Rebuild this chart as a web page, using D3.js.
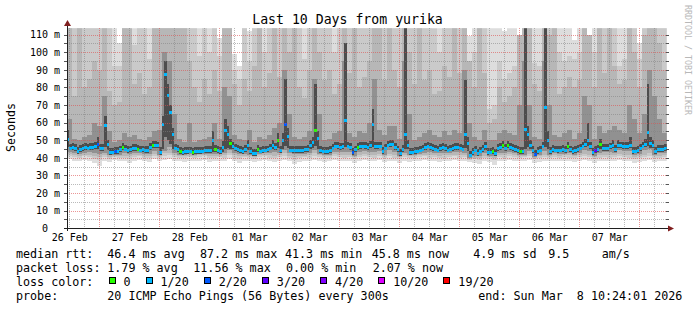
<!DOCTYPE html>
<html>
<head>
<meta charset="utf-8">
<script src="https://cdn.jsdelivr.net/npm/d3@7"></script>
<style>
  body { margin: 0; background: #fff; }
  svg { display: block; font-family: "DejaVu Sans Mono", monospace; }
</style>
</head>
<body>
<svg id="svg1" width="697" height="310"></svg>
<script>
// ---- data: hourly median rtt (ms) and loss count (of 20), 240 hours ----
var median = [
  50.6,45.6,45.8,45.2,43.6,44.8,45.5,45.8,45.6,46.0,
  46.0,46.2,47.8,45.5,45.4,58.2,47.5,43.0,43.3,43.5,
  43.5,44.6,46.0,45.0,44.1,44.6,45.2,45.4,45.0,44.4,
  44.5,44.2,44.0,45.8,46.9,46.9,46.8,43.2,59.2,87.2,
  75.5,65.6,53.5,45.5,44.8,43.5,43.1,43.4,43.5,43.8,
  43.1,43.6,43.6,43.5,43.8,44.0,44.1,44.0,49.7,44.8,
  44.0,43.5,46.0,55.8,53.5,48.0,46.5,45.4,44.8,44.0,
  43.6,44.8,47.3,43.5,42.6,42.6,44.8,43.9,44.2,44.4,
  44.5,45.5,47.3,46.0,50.1,44.0,50.1,58.8,52.0,44.4,
  44.2,44.0,44.0,44.2,44.0,44.5,44.8,47.3,48.5,55.8,
  51.0,44.0,43.8,43.6,43.5,44.0,45.5,46.7,46.3,46.0,
  46.2,61.5,46.7,46.0,43.0,44.5,46.0,46.3,46.7,46.5,
  46.0,47.0,59.2,46.3,46.5,46.7,43.5,45.5,47.3,47.5,
  47.8,46.0,44.5,42.6,44.8,53.0,47.0,43.1,43.3,43.5,
  43.8,44.4,45.0,45.8,46.7,46.0,45.4,45.0,44.4,45.2,
  46.0,45.2,44.4,45.0,45.4,45.8,46.0,45.6,45.0,53.5,
  48.0,41.6,43.0,44.4,42.6,43.8,44.8,46.7,43.1,43.3,
  43.5,42.6,45.4,46.0,46.9,45.4,46.9,46.0,45.4,44.8,
  44.2,43.5,43.5,56.2,53.0,47.0,44.0,42.2,43.5,44.4,
  46.7,68.6,50.0,43.5,44.8,44.4,44.0,44.4,44.8,44.0,
  46.3,44.5,43.5,44.0,44.8,45.5,46.7,47.8,49.7,46.3,
  43.1,44.0,44.8,47.7,45.4,45.4,45.4,46.2,47.3,44.8,
  47.3,46.8,46.3,46.3,46.3,47.3,43.5,43.8,44.0,45.4,
  46.7,47.8,54.3,48.2,47.3,43.5,44.8,44.8,44.8,45.4
];
var loss = [
  1,1,1,1,1,1,1,1,1,1, 1,1,2,1,1,1,1,1,1,2, 1,1,0,1,1,1,1,1,0,1,
  1,1,1,1,0,1,1,1,1,1, 1,1,1,1,1,0,1,1,1,1, 0,1,1,1,1,1,1,1,1,0,
  1,1,1,1,1,0,1,1,1,1, 1,1,1,1,1,1,0,1,1,1, 1,1,1,1,0,1,1,2,1,1,
  1,1,1,1,1,1,1,1,1,0, 1,1,1,1,1,1,1,1,1,1, 1,1,1,1,2,1,0,1,1,1,
  1,1,1,1,1,1,1,1,1,1, 1,1,1,1,1,1,1,1,1,1, 1,1,1,1,1,1,1,1,1,1,
  1,1,1,1,1,1,1,1,1,1, 1,1,1,1,1,1,1,1,1,1, 0,1,1,1,0,1,0,1,1,1,
  1,0,1,1,1,1,1,2,1,1, 1,1,1,1,1,1,1,1,1,1, 0,1,1,1,1,1,1,1,1,1,
  1,3,1,0,1,1,1,1,1,1, 1,1,1,1,1,1,1,1,1,1, 1,1,1,1,1,1,1,1,1,1
];

// ---- smoke core: ping ranks 8 and 13 (ms), hourly, 240 values ----
var r8 = [
  46.0,44.2,44.3,43.9,42.3,43.4,44.1,44.4,44.2,44.6, 44.6,44.8,45.0,44.1,44.0,46.0,44.5,41.7,42.0,42.2,
  42.2,43.3,44.6,43.7,42.8,43.3,43.9,44.1,43.7,43.1, 43.2,42.9,42.7,44.4,45.5,45.5,45.4,41.9,45.0,52.0,
  50.0,48.0,45.0,44.2,43.5,42.2,41.8,42.1,42.2,42.5, 41.8,42.3,42.3,42.2,42.5,42.7,42.8,42.7,43.5,43.5,
  42.7,42.2,43.5,45.0,45.5,45.0,45.2,44.1,43.5,42.7, 42.3,43.5,44.5,42.2,41.3,41.3,43.5,42.6,42.9,43.1,
  43.2,44.2,45.0,44.7,45.5,42.7,45.0,47.0,45.5,43.1, 42.9,42.7,42.7,42.9,42.7,43.2,43.5,45.0,45.5,47.0,
  45.0,42.7,42.5,42.3,42.2,42.7,44.2,45.4,45.0,44.7, 44.9,46.0,45.4,44.7,41.7,43.2,44.7,45.0,45.4,45.2,
  44.7,45.7,46.0,45.0,45.2,45.4,42.2,44.2,46.0,46.2, 46.5,44.7,43.2,41.3,43.5,45.0,45.0,41.8,42.0,42.2,
  42.5,43.1,43.7,44.5,45.4,44.7,44.1,43.7,43.1,43.9, 44.7,43.9,43.1,43.7,44.1,44.5,44.7,44.3,43.7,45.5,
  44.0,40.3,41.7,43.1,41.3,42.5,43.5,44.5,41.8,42.0, 42.2,41.3,44.1,44.7,45.6,44.1,45.6,44.7,44.1,43.5,
  42.9,42.2,42.2,45.0,46.0,45.0,42.7,40.9,42.2,43.1, 45.4,46.0,45.0,42.2,43.5,43.1,42.7,43.1,43.5,42.7,
  45.0,43.2,42.2,42.7,43.5,44.2,45.4,46.0,46.5,45.0, 41.8,42.7,43.5,45.0,44.1,44.1,44.1,44.9,45.5,43.5,
  45.5,45.5,45.0,45.0,45.0,45.5,42.2,42.5,42.7,44.1, 45.4,46.0,46.5,45.5,45.5,42.2,43.5,43.5,43.5,44.1
];
var r13 = [
  56.0,48.0,48.3,47.6,46.0,47.2,47.8,48.3,48.0,48.6, 48.5,48.8,52.0,48.0,48.0,64.0,50.0,45.5,45.8,46.0,
  46.0,47.0,48.5,47.5,46.6,47.0,47.6,47.8,47.5,46.9, 47.0,46.7,46.5,48.3,49.4,49.4,49.3,46.0,64.0,95.0,
  82.0,70.0,57.0,48.0,47.3,46.0,45.6,45.9,46.0,46.3, 45.6,46.1,46.1,46.0,46.3,46.5,46.6,46.5,55.0,47.3,
  46.5,46.0,49.5,62.0,58.0,51.0,49.0,47.9,47.3,46.5, 46.1,47.3,50.0,46.0,45.1,45.1,47.3,46.4,46.7,46.9,
  47.0,48.0,50.0,48.5,54.0,46.5,54.0,85.0,57.0,46.9, 46.7,46.5,46.5,46.7,46.5,47.0,47.3,50.0,52.0,82.0,
  55.0,46.5,46.3,46.1,46.0,46.5,48.0,49.2,48.8,48.5, 48.7,105.0,49.2,48.5,45.5,47.0,48.5,48.8,49.2,49.0,
  48.5,49.5,68.0,48.8,49.0,49.2,46.0,48.0,49.8,50.0, 50.3,48.5,47.0,45.1,47.3,130,50.0,45.6,45.8,46.0,
  46.3,46.9,47.5,48.3,49.2,48.5,47.9,47.5,46.9,47.7, 48.5,47.7,46.9,47.5,47.9,48.3,48.5,48.1,47.5,84.0,
  52.0,44.1,45.5,46.9,45.1,46.3,47.3,49.2,45.6,45.8, 46.0,45.1,47.9,48.5,49.4,47.9,49.4,48.5,47.9,47.3,
  46.7,46.0,46.0,130,58.0,50.0,46.5,44.7,46.0,46.9, 49.2,130,55.0,46.0,47.3,46.9,46.5,46.9,47.3,46.5,
  48.8,47.0,46.0,46.5,47.3,48.0,49.2,51.0,60.0,48.8, 45.6,46.5,47.3,50.5,47.9,47.9,47.9,48.7,50.0,47.3,
  50.0,49.3,48.8,48.8,48.8,52.0,46.0,46.3,46.5,47.9, 49.2,51.0,82.0,52.0,50.0,46.0,47.3,47.3,47.3,47.9
];

// ---- outer smoke: ping ranks (ms), 2-hour bins, 120 values ----
var r1 = [
  39.5,38.5,38.0,39.0,38.5,37.0,35.5,38.0,37.5,39.0, 38.5,38.0,37.0,38.5,39.0,38.0,37.5,39.5,38.0,39.0,
  39.5,38.5,38.0,37.5,38.5,38.0,38.5,39.0,37.5,38.0, 38.5,38.0,39.5,38.0,37.0,38.5,38.0,37.5,38.5,39.0,
  38.0,37.5,38.5,39.0,38.0,36.5,37.5,38.5,38.0,39.0, 38.5,37.5,38.0,39.0,38.5,38.0,38.5,37.0,38.5,39.0,
  38.5,38.0,39.0,37.5,38.5,38.0,37.0,38.5,37.5,38.0, 38.5,39.0,38.0,38.5,37.5,38.0,38.5,39.0,38.0,38.5,
  37.5,37.0,36.5,38.0,37.5,36.0,38.5,38.0,39.0,38.5, 38.0,38.5,39.0,37.0,37.5,38.5,38.0,38.5,38.0,38.5,
  38.0,37.5,38.5,39.0,38.5,37.0,38.0,38.5,38.0,38.5, 39.0,38.5,38.0,37.0,37.5,38.5,39.0,37.5,38.0,38.5
];
var r2 = [
  41.0,40.5,40.0,40.8,40.5,39.5,39.0,40.5,39.5,40.5, 40.2,40.0,39.5,40.5,40.8,40.0,39.8,41.0,40.0,41.0,
  41.5,40.5,40.0,39.8,40.3,40.0,40.5,40.8,39.8,40.0, 40.3,40.2,41.5,40.2,39.5,40.3,40.0,39.5,40.5,40.8,
  40.2,39.8,40.5,41.0,40.0,39.0,39.8,40.3,40.2,41.0, 40.5,39.8,40.0,41.0,40.5,40.2,40.5,39.3,40.5,41.0,
  40.5,40.2,41.0,39.8,40.8,40.2,39.3,40.5,39.8,40.0, 40.5,40.8,40.2,40.5,39.8,40.2,40.5,40.8,40.2,40.5,
  39.0,39.2,38.8,40.0,39.5,38.8,40.5,40.2,41.0,40.5, 40.0,40.5,41.0,39.2,39.8,40.5,40.0,40.5,40.0,40.5,
  40.2,39.8,40.5,41.0,40.5,39.3,40.2,40.5,40.2,40.5, 41.0,40.5,40.2,39.3,39.8,40.5,41.0,39.8,40.2,40.5
];
var r3 = [
  42.0,41.5,41.0,41.8,41.8,40.8,40.5,41.5,40.5,41.2, 41.2,41.3,40.8,41.6,41.8,41.2,41.0,42.2,41.0,42.5,
  43.0,41.8,41.0,40.8,41.2,41.0,41.4,41.8,41.0,41.2, 41.2,41.5,43.0,41.5,40.8,41.2,41.0,40.5,41.5,41.8,
  41.4,41.2,41.5,42.5,41.2,40.5,41.0,41.3,41.5,42.5, 41.5,40.8,41.0,42.0,41.8,41.5,41.8,40.5,41.8,42.2,
  41.8,41.5,42.2,40.8,42.0,41.5,40.3,41.5,40.8,41.0, 41.5,41.8,41.5,41.6,41.0,41.4,41.5,41.8,41.5,41.8,
  39.6,40.2,40.0,41.2,40.6,40.0,41.6,41.4,42.0,41.5, 41.0,41.3,42.2,40.2,40.8,41.6,41.0,41.5,41.0,41.5,
  41.4,40.8,41.6,42.2,41.8,40.5,41.4,41.6,41.5,41.7, 42.2,41.8,41.5,40.5,41.0,41.8,42.5,41.0,41.3,41.6
];
var r5 = [
  43.2,42.8,42.0,43.0,43.2,42.5,42.0,42.8,41.5,41.8, 41.9,42.8,42.2,42.9,42.6,42.3,42.0,43.8,41.8,44.0,
  46.0,43.0,41.9,41.6,42.0,41.6,42.0,42.4,42.0,42.4, 42.0,43.0,44.5,43.0,42.2,42.0,41.8,41.0,42.3,42.6,
  42.8,43.2,42.5,44.5,42.5,42.0,42.1,42.2,42.8,44.5, 42.2,41.8,41.9,43.4,43.6,43.5,43.6,41.3,43.6,44.0,
  43.6,43.5,44.0,41.8,44.5,43.5,40.9,42.8,41.4,41.6, 42.0,43.0,43.6,43.0,42.5,43.0,42.5,43.2,43.4,43.0,
  40.0,41.0,40.8,42.6,41.3,40.8,43.0,43.0,43.6,42.6, 41.7,41.8,44.0,40.5,41.7,44.0,41.8,42.5,42.2,42.2,
  42.6,41.7,42.8,44.2,44.0,41.3,42.8,43.2,43.2,42.8, 44.2,43.8,43.8,41.6,42.1,44.2,45.0,41.7,42.8,42.9
];
var r16 = [
  62,51,50,52,53,60,58,75,55,49, 50,54,52,53,51,50,52,55,56,100,
  95,65,51,49,60,49,50,51,52,60, 51,80,75,53,51,50,56,49,52,51,
  53,57,60,90,65,52,51,52,55,85, 65,50,51,54,55,95,54,52,55,54,
  60,85,56,53,58,58,51,95,65,50, 52,54,56,53,52,55,53,56,54,90,
  60,52,50,56,50,50,54,56,54,53, 70,95,70,52,51,95,70,53,52,54,
  56,51,54,75,70,51,58,54,56,58, 56,54,70,62,54,65,90,75,62,54
];
var r18 = [
  120,75,120,80,85,95,90,115,78,70, 72,120,118,82,88,76,80,120,118,130,
  130,120,118,116,95,80,72,85,76,90, 78,120,118,82,70,85,78,92,116,80,
  88,118,86,118,100,118,80,74,90,118, 100,84,90,76,82,130,88,117,80,86,
  95,120,118,84,116,90,80,130,100,82, 117,84,90,76,78,92,86,118,88,130,
  95,80,116,88,60,62,80,72,75,80, 110,130,115,82,78,130,110,117,76,80,
  86,80,84,118,110,80,117,88,116,92, 82,84,115,100,80,110,130,115,105,90
];
var r19 = [
  125,120,125,118,122,125,120,125,118,92, 92,125,100,104,120,118,96,125,125,135,
  135,125,125,122,120,118,98,120,100,122, 98,125,125,90,85,120,95,118,122,100,
  120,125,118,130,125,125,118,96,120,125, 125,118,120,100,118,135,120,125,118,120,
  122,130,125,118,125,120,118,135,125,118, 125,118,120,118,100,120,118,125,120,135,
  95,100,120,118,68,70,95,85,88,92, 95,135,125,94,92,135,125,125,100,95,
  98,96,100,125,95,100,125,118,125,120, 92,96,125,118,96,125,135,125,120,118
];
var r20 = [
  140,140,140,130,140,140,135,140,130,120, 105,130,118,120,140,130,115,140,140,150,
  150,140,140,135,140,130,115,135,118,140, 108,140,140,99,92,135,112,130,140,118,
  135,140,130,150,140,140,130,114,135,140, 140,130,135,116,130,150,135,140,130,135,
  135,150,140,130,140,135,130,150,140,130, 140,130,135,107,116,135,130,140,135,150,
  109,118,135,130,118,116,118,112,114,116, 105,150,140,116,114,150,140,140,118,116,
  118,107,118,140,104,118,140,130,140,135, 115,116,140,130,105,140,150,140,135,130
];

var yTicks = [0,10,20,30,40,50,60,70,80,90,100,110];
var dayLabels = ["26 Feb","27 Feb","28 Feb","01 Mar","02 Mar","03 Mar","04 Mar","05 Mar","06 Mar","07 Mar"];
var lossLabels = ["0","1/20","2/20","3/20","4/20","10/20","19/20"];
var lossColors = ["#26ff00","#00b8ff","#0059ff","#5e00ff","#7e00ff","#dd00ff","#ff0000"];

(function() {
  var pL = 66.7, pR = 666.7, pT = 28.3, pB = 228.3;
  var x = d3.scaleLinear().domain([0, 240]).range([pL, pR]);
  var y = d3.scaleLinear().domain([0, 113.6]).range([pB, pT]);
  var svg = d3.select("#svg1");

  svg.append("rect").attr("width", 697).attr("height", 310).attr("fill", "#fff");
  svg.append("defs").append("clipPath").attr("id", "plot")
    .append("rect").attr("x", pL).attr("y", pT)
    .attr("width", pR - pL).attr("height", pB - pT);

  // smoke bands, outer to inner (step = hours per value)
  var bands = [
    {lo: r1, hi: r20, c: "#dddddd", step: 2},
    {lo: r2, hi: r19, c: "#cacaca", step: 2},
    {lo: r3, hi: r18, c: "#b7b7b7", step: 2},
    {lo: r5, hi: r16, c: "#919191", step: 2},
    {lo: r8, hi: r13, c: "#4d4d4d", step: 1}
  ];
  var smoke = svg.append("g").attr("clip-path", "url(#plot)")
    .attr("shape-rendering", "crispEdges");
  bands.forEach(function(b) {
    smoke.append("g").attr("fill", b.c).selectAll("rect")
      .data(d3.range(b.lo.length))
      .enter().append("rect")
      .attr("x", function(j) { return x(b.step * j); })
      .attr("width", function(j) { return x(b.step * (j + 1)) - x(b.step * j); })
      .attr("y", function(j) { return y(b.hi[j]); })
      .attr("height", function(j) { return y(b.lo[j]) - y(b.hi[j]); });
  });

  // median coloured by loss
  function lossIndex(l) {
    if (l <= 0) return 0;
    if (l <= 4) return Math.ceil(l);
    if (l <= 10) return 5;
    return 6;
  }
  smoke.append("g").selectAll("rect")
    .data(median)
    .enter().append("rect")
    .attr("x", function(d, i) { return x(i); })
    .attr("width", function(d, i) { return x(i + 1) - x(i); })
    .attr("y", function(d) { return y(d) - 1.5; })
    .attr("height", 3)
    .attr("fill", function(d, i) { return lossColors[lossIndex(loss[i])]; });

  // grid
  var grid = svg.append("g").attr("shape-rendering", "crispEdges").attr("stroke-width", 1)
    .attr("stroke-dasharray", "1,1");
  var minorColor = "rgba(130,130,130,0.55)", majorColor = "rgba(222,80,80,0.6)";
  d3.range(5, 114, 5).forEach(function(v) {
    var yy = Math.round(y(v)) + 0.5;
    grid.append("line").attr("x1", pL).attr("x2", pR).attr("y1", yy).attr("y2", yy)
      .attr("stroke", v % 10 === 0 ? majorColor : minorColor);
  });
  d3.range(1, 240, 6).forEach(function(h) {
    var xx = Math.round(x(h)) + 0.5;
    var major = (h - 13) % 24 === 0;
    grid.append("line").attr("x1", xx).attr("x2", xx).attr("y1", pT).attr("y2", pB)
      .attr("stroke", major ? majorColor : minorColor);
  });

  // y tick marks both sides
  var tk = svg.append("g").attr("stroke", "#555").attr("shape-rendering", "crispEdges");
  d3.range(5, 114, 5).forEach(function(v) {
    var yy = Math.round(y(v)) + 0.5;
    tk.append("line").attr("x1", pL - 3).attr("x2", pL).attr("y1", yy).attr("y2", yy);
    tk.append("line").attr("x1", pR - 1).attr("x2", pR + 2).attr("y1", yy).attr("y2", yy);
  });

  // axes labels
  var yAxis = svg.append("g")
    .attr("transform", "translate(" + pL + ",0)")
    .call(d3.axisLeft(y).tickValues(yTicks).tickSize(0).tickPadding(6.7)
      .tickFormat(function(d) { return d === 0 ? "0  " : d + " m"; }));
  yAxis.select(".domain").remove();
  yAxis.selectAll("text").attr("xml:space", "preserve")
    .style("font-family", "DejaVu Sans Mono").style("font-size", "10px").attr("fill", "#000");

  var xAxis = svg.append("g")
    .attr("transform", "translate(0," + pB + ")")
    .call(d3.axisBottom(x).tickValues(dayLabels.map(function(d, i) { return 1 + 24 * i; }))
      .tickSize(0).tickPadding(5.6)
      .tickFormat(function(d, i) { return dayLabels[i]; }));
  xAxis.select(".domain").remove();
  xAxis.selectAll("text").style("font-family", "DejaVu Sans Mono").style("font-size", "10px")
    .attr("fill", "#000");

  // axis lines and arrows
  var ax = svg.append("g").attr("shape-rendering", "crispEdges");
  ax.append("line").attr("x1", 64).attr("x2", 670).attr("y1", Math.round(pB) + 0.5)
    .attr("y2", Math.round(pB) + 0.5).attr("stroke", "#1f1f1f");
  ax.append("line").attr("x1", Math.round(pL) + 0.5).attr("x2", Math.round(pL) + 0.5)
    .attr("y1", 231).attr("y2", 24).attr("stroke", "#1f1f1f");
  svg.append("path").attr("d", "M668,225.5L674,228.5L668,231.5Z").attr("fill", "#801f1f");
  svg.append("path").attr("d", "M64,26L67.5,20L71,26Z").attr("fill", "#801f1f");

  // title and side texts
  svg.append("text").attr("x", 347.5).attr("y", 23.5).attr("text-anchor", "middle")
    .style("font-size", "13.2px").text("Last 10 Days from yurika");
  svg.append("text").attr("transform", "translate(15,127.5) rotate(-90)")
    .attr("text-anchor", "middle").style("font-size", "11.6px").text("Seconds");
  svg.append("text").attr("transform", "translate(685,5) rotate(90)")
    .style("font-size", "8.3px").attr("fill", "#b8b8b8").text("RRDTOOL / TOBI OETIKER");

  // legend
  var lg = svg.append("g").style("font-size", "11.7px");
  function put(txt, xx, yy) {
    return lg.append("text").attr("xml:space", "preserve").attr("x", xx).attr("y", yy).text(txt);
  }
  var rows = [257.5, 271.7, 285.9, 300.1];
  put("median rtt:", 16, rows[0]);
  put("46.4 ms avg", 107.3, rows[0]); put("87.2 ms max", 200, rows[0]);
  put("41.3 ms min", 285, rows[0]); put("45.8 ms now", 371.7, rows[0]);
  put("4.9 ms sd", 473.3, rows[0]); put("9.5", 548.3, rows[0]); put("am/s", 601.7, rows[0]);
  put("packet loss:", 16, rows[1]);
  put("1.79 % avg", 107.3, rows[1]); put("11.56 % max", 193.3, rows[1]);
  put("0.00 % min", 286, rows[1]); put("2.07 % now", 372.7, rows[1]);
  put("loss color:", 16, rows[2]);
  var lx = 108.5;
  lossLabels.forEach(function(l, i) {
    lg.append("rect").attr("x", lx + 0.5).attr("y", 277.5).attr("width", 6).attr("height", 6)
      .attr("fill", lossColors[i]).attr("stroke", "#000").attr("shape-rendering", "crispEdges");
    var t = put(l, lx + 15, rows[2]);
    lx = lx + 15 + t.node().getComputedTextLength() + 15;
  });
  put("probe:", 16, rows[3]);
  put("20 ICMP Echo Pings (56 Bytes) every 300s", 107.3, rows[3]);
  put("end: Sun Mar  8 10:24:01 2026", 478.3, rows[3]);
})();
</script>
</body>
</html>
